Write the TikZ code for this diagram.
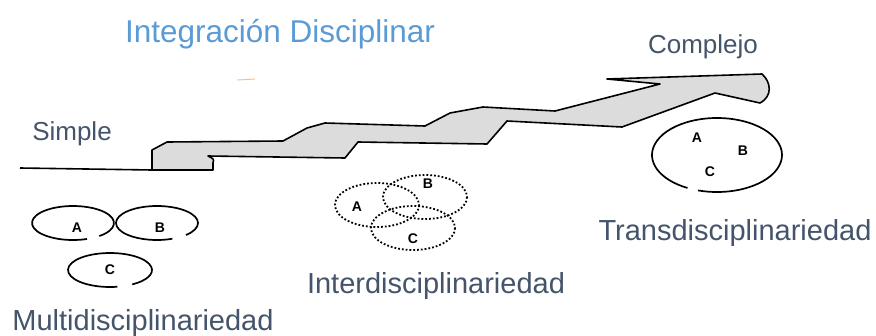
\documentclass[tikz,border=0pt]{standalone}
\usepackage{fontspec}
\setmainfont{Liberation Sans}
\definecolor{titleblue}{HTML}{5B9BD5}
\definecolor{slate}{HTML}{44546A}
\definecolor{stepgray}{HTML}{DCDCDC}

\begin{document}
\begin{tikzpicture}[x=1pt, y=-1pt,
  label/.style={text=slate, font=\fontsize{29}{34}\selectfont, anchor=base, inner sep=0pt},
  letter/.style={font=\bfseries\fontsize{14}{16}\selectfont, inner sep=0pt},
  ring/.style={line width=1.7pt},
  dotring/.style={line width=1.8pt, dotted}]

\useasboundingbox (0,0) rectangle (876,335);

% Title and end labels
\node[text=titleblue, font=\fontsize{31.5}{36}\selectfont, anchor=base, inner sep=0pt] (title) at (280,42) {Integración Disciplinar};
\node[label, font=\fontsize{26}{30}\selectfont] (simple) at (72,140) {Simple};
\node[label, font=\fontsize{26}{30}\selectfont] (complejo) at (703,53) {Complejo};
\draw[orange!50, line width=1pt] (237,80) -- (255,79);

% Rising step band (grey)
\draw[line width=1.6pt] (20,168) -- (152,170);
\draw[line width=1.6pt, fill=stepgray, line join=round]
  (152,170) -- (152,150) -- (167,142) -- (283,141) -- (307,128) -- (325,123)
  -- (425,126) -- (450,113) -- (483,107) -- (555,111) -- (660,84) -- (607,79)
  -- (762,74) .. controls (771,82) and (773,96) .. (760,103) -- (715,93)
  -- (622,127) -- (507,121) -- (487,144) -- (358,142) -- (345,158)
  -- (208,156) .. controls (214,159) .. (213,163) -- (213,170) -- cycle;

% Multidisciplinariedad (side by side)
\coordinate (mA) at (73,223);
\coordinate (mB) at (157,223);
\coordinate (mC) at (110,270);
\draw[ring] (mA) ++(50:41 and 17) arc[start angle=50, end angle=-290, x radius=41, y radius=17];
\draw[ring] (mB) ++(45:41 and 17) arc[start angle=45, end angle=-292, x radius=41, y radius=17];
\draw[ring] (mC) ++(-280:42 and 17) arc[start angle=-280, end angle=58, x radius=42, y radius=17];
\node[letter] (multiA) at (77,228) {A};
\node[letter] (multiB) at (160,228) {B};
\node[letter] (multiC) at (110,270) {C};
\node[label] (multi) at (143,330) {Multidisciplinariedad};

% Interdisciplinariedad (overlapping, dotted)
\draw[dotring] (377,205) ellipse[x radius=42, y radius=22];
\draw[dotring] (425,197) ellipse[x radius=42, y radius=22];
\draw[dotring] (413,228) ellipse[x radius=42, y radius=22];
\node[letter] (interA) at (357,207) {A};
\node[letter] (interB) at (428,184) {B};
\node[letter] (interC) at (413,239) {C};
\node[label] (inter) at (436,293) {Interdisciplinariedad};

% Transdisciplinariedad (one ring)
\coordinate (tO) at (717,155);
\draw[ring] (tO) ++(-253:65 and 37) arc[start angle=-253, end angle=-603, x radius=65, y radius=37];
\node[letter] (transA) at (697,138) {A};
\node[letter] (transB) at (743,151) {B};
\node[letter] (transC) at (710,172) {C};
\node[label] (trans) at (735,240) {Transdisciplinariedad};

\end{tikzpicture}
\end{document}
